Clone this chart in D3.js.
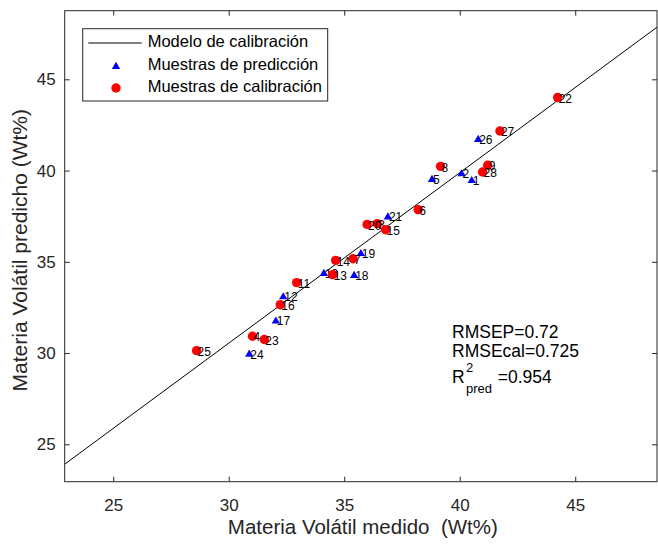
<!DOCTYPE html>
<html>
<head>
<meta charset="utf-8">
<script src="https://cdn.jsdelivr.net/npm/d3@7"></script>
<style>
  html, body { margin: 0; padding: 0; background: #fff; }
  svg { display: block; font-family: "Liberation Sans", Arial, sans-serif; }
</style>
</head>
<body>
<svg id="chart" width="658" height="546"></svg>
<script>
// ---- data ----
const predIds = [1, 2, 5, 10, 12, 17, 18, 19, 21, 24, 26];
const predX   = [40.52, 40.08, 38.80, 34.12, 32.36, 32.04, 35.43, 35.72, 36.89, 30.89, 40.80];
const predY   = [39.50, 39.87, 39.56, 34.41, 33.13, 31.80, 34.30, 35.50, 37.51, 29.98, 41.75];

const calIds = [3, 4, 6, 7, 8, 9, 11, 13, 14, 15, 16, 20, 22, 23, 25, 27, 28];
const calX   = [36.43, 31.03, 38.20, 35.38, 39.17, 41.21, 32.94, 34.50, 34.63, 36.79, 32.23, 35.99, 44.24, 31.54, 28.61, 41.74, 40.99];
const calY   = [37.09, 30.92, 37.86, 35.17, 40.23, 40.29, 33.86, 34.30, 35.08, 36.76, 32.65, 37.05, 44.00, 30.74, 30.13, 42.17, 39.92];

const modelSlope = 0.934;
const modelIntercept = 2.52;

const xTicks = [25, 30, 35, 40, 45];
const yTicks = [25, 30, 35, 40, 45];
const xDomain = [22.90, 48.54];
const yDomain = [22.95, 48.76];

const legendLabels = ["Modelo de calibración", "Muestras de predicción", "Muestras de calibración"];
const statLines = ["RMSEP=0.72", "RMSEcal=0.725"];
const r2Value = "=0.954";

const xTitle = "Materia Volátil medido  (Wt%)";
const yTitle = "Materia Volátil predicho (Wt%)";

// ---- layout ----
const svg = d3.select("#chart");
const L = 64.7, R = 657, T = 10.7, B = 481.7;
const ink = "#262626";
const x = d3.scaleLinear().domain(xDomain).range([L, R]);
const y = d3.scaleLinear().domain(yDomain).range([B, T]);

// model line
const lineData = xDomain.map(v => [v, modelSlope * v + modelIntercept]);
svg.append("path")
  .attr("d", d3.line().x(d => x(d[0])).y(d => y(d[1]))(lineData))
  .attr("stroke", "#000").attr("stroke-width", 1).attr("fill", "none");

// axes (inward ticks on all sides)
const fsTick = 17;
const axB = svg.append("g").attr("transform", `translate(0,${B})`)
  .call(d3.axisBottom(x).tickValues(xTicks).tickSize(-5).tickPadding(17).tickFormat(d3.format("d")));
const axT = svg.append("g").attr("transform", `translate(0,${T})`)
  .call(d3.axisTop(x).tickValues(xTicks).tickSize(-5).tickFormat(""));
const axL = svg.append("g").attr("transform", `translate(${L},0)`)
  .call(d3.axisLeft(y).tickValues(yTicks).tickSize(-5).tickPadding(9).tickFormat(d3.format("d")));
const axR = svg.append("g").attr("transform", `translate(${R},0)`)
  .call(d3.axisRight(y).tickValues(yTicks).tickSize(-5).tickFormat(""));
[axB, axT, axL, axR].forEach(a => {
  a.select(".domain").remove();
  a.selectAll("line").attr("stroke", ink).attr("stroke-width", 1);
  a.selectAll("text").attr("fill", ink).attr("font-size", fsTick)
    .attr("font-family", "'Liberation Sans', Arial, sans-serif");
});
svg.append("rect").attr("x", L).attr("y", T).attr("width", R - L).attr("height", B - T)
  .attr("fill", "none").attr("stroke", ink).attr("stroke-width", 1);

// markers
const triPath = "M0,-3.8L4.2,3.4L-4.2,3.4Z";
const labelFs = 12;
const predPts = predIds.map((id, i) => ({ id, x: predX[i], y: predY[i] }));
const calPts = calIds.map((id, i) => ({ id, x: calX[i], y: calY[i] }));

predPts.forEach(p => {
  svg.append("path").attr("d", triPath)
    .attr("transform", `translate(${x(p.x)},${y(p.y)})`).attr("fill", "#0000ff");
  svg.append("text").attr("x", x(p.x) + 1).attr("y", y(p.y) + 2)
    .attr("dominant-baseline", "middle").attr("font-size", labelFs).attr("fill", "#000")
    .text(p.id);
});
calPts.forEach(p => {
  svg.append("circle").attr("cx", x(p.x)).attr("cy", y(p.y)).attr("r", 4.7).attr("fill", "#ff0000");
  svg.append("text").attr("x", x(p.x) + 1).attr("y", y(p.y) + 2)
    .attr("dominant-baseline", "middle").attr("font-size", labelFs).attr("fill", "#000")
    .text(p.id);
});

// legend
const lg = svg.append("g");
lg.append("rect").attr("x", 82.7).attr("y", 28.7).attr("width", 245).attr("height", 72.3)
  .attr("fill", "#fff").attr("stroke", ink).attr("stroke-width", 1);
const rowY = [43, 65.5, 88];
lg.append("line").attr("x1", 88.3).attr("x2", 141.7).attr("y1", rowY[0]).attr("y2", rowY[0])
  .attr("stroke", "#000").attr("stroke-width", 1);
lg.append("path").attr("d", triPath).attr("transform", `translate(116,${rowY[1]})`).attr("fill", "#0000ff");
lg.append("circle").attr("cx", 116).attr("cy", rowY[2]).attr("r", 4.7).attr("fill", "#ff0000");
legendLabels.forEach((t, i) => {
  lg.append("text").attr("x", 147.7).attr("y", rowY[i]).attr("dominant-baseline", "middle")
    .attr("font-size", 16.5).attr("fill", "#000").text(t);
});

// statistics text
const fsStat = 17.5;
const statBase = [338.3, 356.7];
statLines.forEach((t, i) => {
  svg.append("text").attr("x", 452).attr("y", statBase[i])
    .attr("font-size", fsStat).attr("fill", "#000").text(t);
});
const st = svg.append("g");
st.append("text").attr("x", 452).attr("y", 382.7).attr("font-size", fsStat).attr("fill", "#000").text("R");
st.append("text").attr("x", 466).attr("y", 372).attr("font-size", 13).attr("fill", "#000").text("2");
st.append("text").attr("x", 466).attr("y", 392.5).attr("font-size", 13).attr("fill", "#000").text("pred");
st.append("text").attr("x", 497.7).attr("y", 382.7).attr("font-size", fsStat).attr("fill", "#000").text(r2Value);

// axis titles
svg.append("text").attr("x", (L + R) / 2 + 2).attr("y", 534).attr("text-anchor", "middle")
  .style("white-space", "pre")
  .attr("font-size", 20.5).attr("fill", ink).text(xTitle);
svg.append("text").attr("transform", `translate(27,${(T + B) / 2 + 4}) rotate(-90)`)
  .attr("text-anchor", "middle").attr("font-size", 21).attr("fill", ink).text(yTitle);
</script>
</body>
</html>
